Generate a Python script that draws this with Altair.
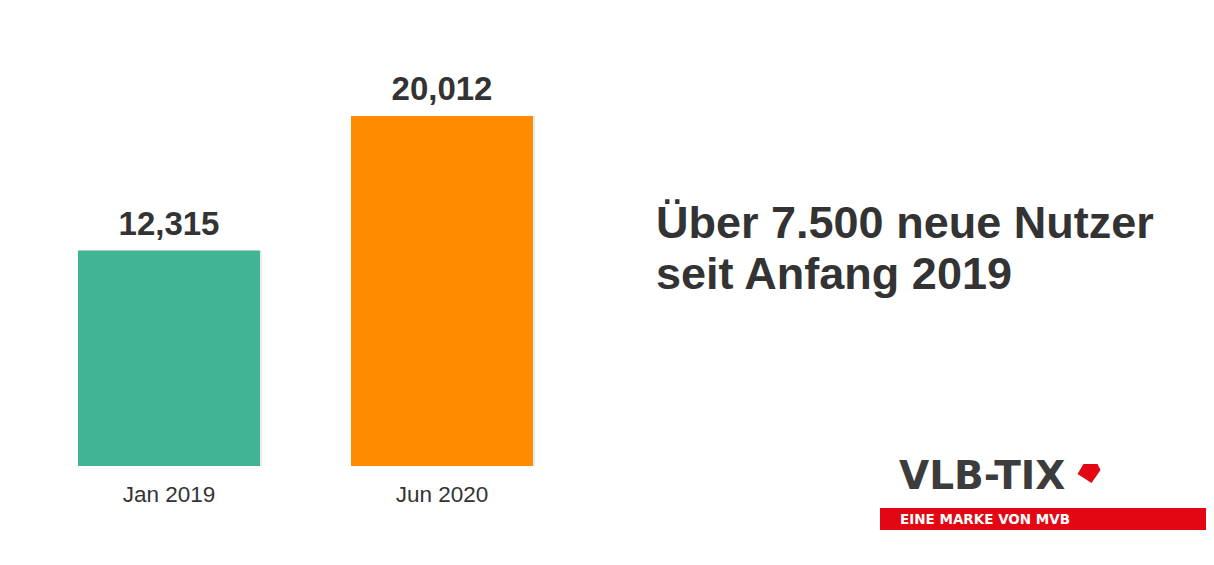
import altair as alt
import pandas as pd

categories = ["Jan 2019", "Jun 2020"]
users = [12315, 20012]
bar_colors = ["#41B496", "#FF8C00"]
headline = "Über 7.500 neue Nutzer\nseit Anfang 2019"
logo_main = "VLB-TIX"
logo_sub = "EINE MARKE VON MVB"

df = pd.DataFrame({"period": categories, "users": users, "color": bar_colors})

FONT = "Liberation Sans"
TEXT = "#333333"

x = alt.X("period:N", sort=categories,
          scale=alt.Scale(range=[70, 525], paddingInner=1/3, paddingOuter=0, round=False),
          axis=alt.Axis(title=None, domain=False, ticks=False, labelAngle=0,
                        labelFont=FONT, labelFontSize=22.5, labelColor=TEXT,
                        labelBaseline="alphabetic", labelPadding=35))
y = alt.Y("users:Q", scale=alt.Scale(domain=[0, 26187], nice=False), axis=None)

base = alt.Chart(df)

shadow = base.mark_bar(color="#000000", opacity=0.08, xOffset=2, y2Offset=2).encode(x=x, y=y)
bars = base.mark_bar().encode(x=x, y=y, color=alt.Color("color:N", scale=None))
labels = base.mark_text(font=FONT, fontSize=33, fontWeight="bold", color=TEXT,
                        baseline="alphabetic", dy=-16).encode(
    x=x, y=y, text=alt.Text("users:Q", format=","))

ann = alt.Chart(pd.DataFrame({"t": [headline]})).mark_text(
    font=FONT, fontSize=45, fontWeight="bold", color=TEXT, align="left",
    baseline="alphabetic", lineBreak="\n", lineHeight=51).encode(
    x=alt.value(648), y=alt.value(230), text="t:N")

logo_txt = alt.Chart(pd.DataFrame({"t": [logo_main]})).mark_text(
    font="DejaVu Sans", fontSize=39, fontWeight="bold", color="#3c3c3c",
    align="left", baseline="alphabetic").encode(
    x=alt.value(891), y=alt.value(481), text="t:N")

logo_mark = alt.Chart(pd.DataFrame({"t": [1]})).mark_point(
    shape="M-0.48,-0.83L0.74,-0.83L1,-0.3L0.22,0.83L-1,0.04Z",
    filled=True, color="#E30613", opacity=1, size=529).encode(
    x=alt.value(1081), y=alt.value(465.5))

band = alt.Chart(pd.DataFrame({"t": [1]})).mark_rect(color="#E30613").encode(
    x=alt.value(872), x2=alt.value(1198), y=alt.value(500), y2=alt.value(522))

band_txt = alt.Chart(pd.DataFrame({"t": [logo_sub]})).mark_text(
    font="DejaVu Sans", fontSize=13.5, fontWeight="bold", color="#ffffff",
    align="left", baseline="alphabetic").encode(
    x=alt.value(892), y=alt.value(516), text="t:N")

chart = alt.layer(shadow, bars, labels, ann, logo_txt, logo_mark, band, band_txt).properties(
    width=1198, height=458,
    background="#ffffff",
    autosize=alt.AutoSizeParams(type="none"),
    padding={"left": 0, "top": 0, "right": 0, "bottom": 76},
).configure_view(strokeWidth=0, stroke=None)

chart.save("out.html", embed_options={"renderer": "svg", "actions": False})
